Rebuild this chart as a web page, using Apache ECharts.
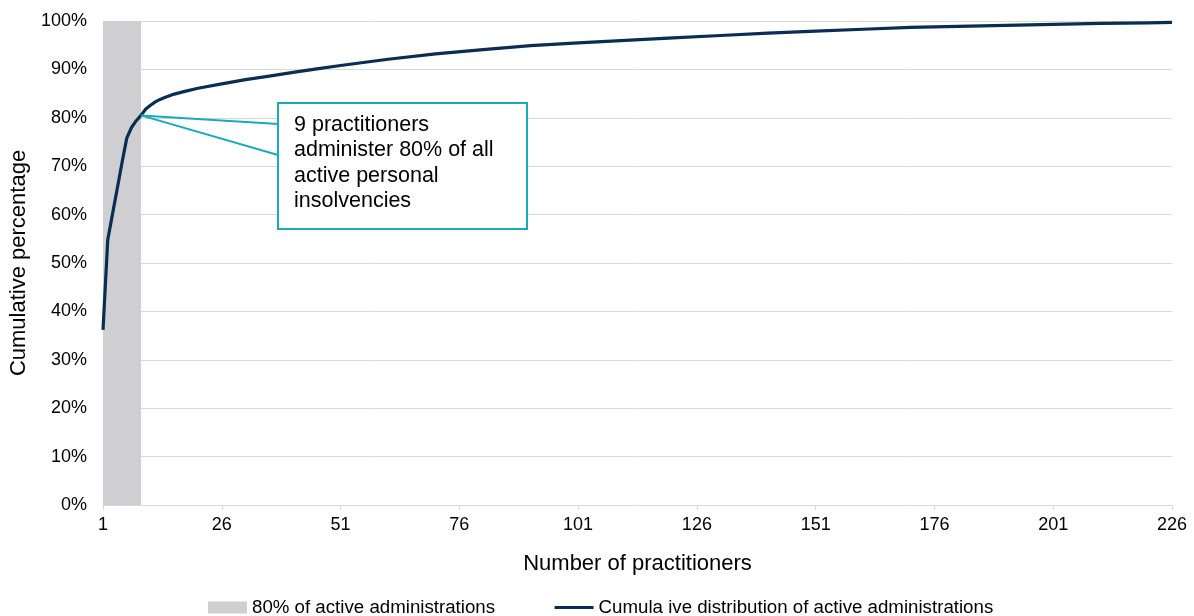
<!DOCTYPE html>
<html>
<head>
<meta charset="utf-8">
<script src="https://cdn.jsdelivr.net/npm/echarts@6/dist/echarts.min.js"></script>
<style>
  html, body { margin: 0; padding: 0; background: #fff; }
  #chart { width: 1194px; height: 616px; }
</style>
</head>
<body>
<div id="chart"></div>
<script>
// practitioner rank (1 = largest) and cumulative share of active administrations (%)
const practitioners = [1, 2, 3, 4, 5, 6, 7, 8, 9, 10, 11, 12, 13, 14, 16, 18, 21, 26, 31, 36, 41, 46, 51,
  61, 71, 81, 91, 101, 111, 121, 131, 141, 151, 161, 171, 181, 191, 201, 211, 221, 226]
const cumulative = [36.2, 54.8, 60.1, 65.4, 70.7, 75.8, 78.0, 79.4, 80.5, 81.8, 82.6, 83.3, 83.8, 84.2, 84.9, 85.4, 86.1, 87.0, 87.9, 88.6, 89.4, 90.1, 90.8,
  92.1, 93.2, 94.1, 94.9, 95.5, 96.0, 96.5, 97.0, 97.5, 97.9, 98.3, 98.7, 98.9, 99.1, 99.3, 99.5, 99.6, 99.7]

// shaded band: the first 9 practitioners
const bandRange = [1, 9]
const bandTop = 100

const xTicks = { first: 1, last: 226, step: 25 }
const yTicks = { min: 0, max: 100, step: 10 }

const seriesNames = ['80% of active administrations', 'Cumula ive distribution of active administrations']
const note = '9 practitioners\nadminister 80% of all\nactive personal\ninsolvencies'

const FONT = '"Liberation Sans", Arial, sans-serif'
const navy = '#0a2d52'
const grey = '#cfcfd1'
const teal = '#1aabb9'
const gridLine = '#d9d9d9'

const chart = echarts.init(document.getElementById('chart'))

// x axis is shifted by one so ticks land on multiples of 25 (label = value + 1)
const toX = (p) => p - xTicks.first

chart.setOption({
  animation: false,
  textStyle: { fontFamily: FONT },
  grid: { left: 103, right: 22, top: 21, bottom: 111, outerBoundsMode: 'none', containLabel: false },
  legend: {
    left: 203,
    bottom: -6,
    itemGap: 58,
    itemWidth: 39,
    itemHeight: 12,
    textStyle: { fontFamily: FONT, fontSize: 18.7, color: '#000' },
    data: [
      { name: seriesNames[0], icon: 'rect' },
      { name: seriesNames[1], itemStyle: { opacity: 0 }, lineStyle: { width: 3, color: navy } }
    ]
  },
  xAxis: {
    type: 'value',
    min: 0,
    max: toX(xTicks.last),
    interval: xTicks.step,
    name: 'Number of practitioners',
    nameLocation: 'middle',
    nameGap: 48,
    nameTextStyle: { fontFamily: FONT, fontSize: 22, color: '#000' },
    axisLine: { show: true, lineStyle: { color: gridLine, width: 1 } },
    axisTick: { show: true, length: 5, lineStyle: { color: gridLine } },
    splitLine: { show: false },
    axisLabel: {
      color: '#000', fontSize: 18, fontFamily: FONT, margin: 11,
      formatter: (v) => String(v + xTicks.first)
    }
  },
  yAxis: {
    type: 'value',
    min: yTicks.min,
    max: yTicks.max,
    interval: yTicks.step,
    name: 'Cumulative percentage',
    nameLocation: 'middle',
    nameGap: 72,
    nameTextStyle: { fontFamily: FONT, fontSize: 22, color: '#000' },
    axisLine: { show: false },
    axisTick: { show: false },
    splitLine: { lineStyle: { color: gridLine, width: 1 } },
    axisLabel: { color: '#000', fontSize: 18, fontFamily: FONT, margin: 16, formatter: '{value}%' }
  },
  series: [
    {
      name: seriesNames[0],
      type: 'line',
      symbol: 'none',
      z: 1,
      itemStyle: { color: grey },
      lineStyle: { width: 0, color: grey },
      areaStyle: { color: grey, opacity: 1 },
      data: bandRange.map((p) => [toX(p), bandTop])
    },
    {
      name: seriesNames[1],
      type: 'line',
      symbol: 'none',
      smooth: false,
      z: 3,
      itemStyle: { color: navy },
      lineStyle: { width: 3.2, color: navy, join: 'round' },
      data: practitioners.map((p, i) => [toX(p), cumulative[i]])
    }
  ]
})

// callout anchored to the 9th practitioner's point
const anchor = chart.convertToPixel({ xAxisIndex: 0, yAxisIndex: 0 }, [toX(9), cumulative[practitioners.indexOf(9)]])
const box = { x: 278, y: 103, w: 249, h: 126 }

chart.setOption({
  graphic: [
    {
      type: 'line', z: 10,
      shape: { x1: anchor[0], y1: anchor[1], x2: box.x, y2: box.y + 21 },
      style: { stroke: teal, lineWidth: 2 }
    },
    {
      type: 'line', z: 10,
      shape: { x1: anchor[0], y1: anchor[1], x2: box.x, y2: box.y + 52 },
      style: { stroke: teal, lineWidth: 2 }
    },
    {
      type: 'rect', z: 11,
      shape: { x: box.x, y: box.y, width: box.w, height: box.h },
      style: { fill: '#fff', stroke: teal, lineWidth: 2 }
    },
    {
      type: 'text', z: 12,
      x: box.x + 16, y: box.y + 9,
      style: {
        text: note,
        fill: '#000',
        font: '21.5px ' + FONT,
        lineHeight: 25.5
      }
    }
  ]
})
</script>
</body>
</html>
